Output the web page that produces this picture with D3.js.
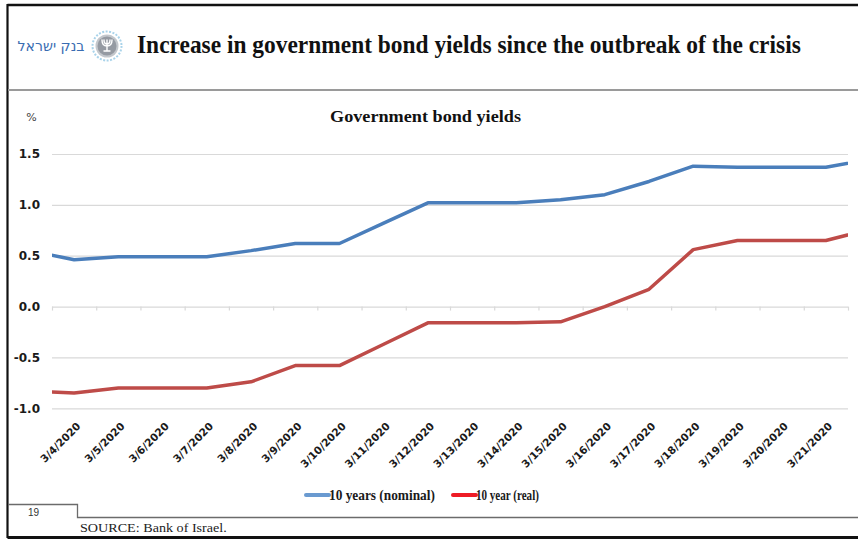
<!DOCTYPE html>
<html>
<head>
<meta charset="utf-8">
<script src="https://cdn.jsdelivr.net/npm/d3@7"></script>
<style>
  html, body { margin: 0; padding: 0; background: #fff; }
  svg { display: block; }
</style>
</head>
<body>
<svg id="chart" width="858" height="539"></svg>
<script>
// Day of March 2020 for every observation (3/3 and 3/22 sit just outside the axis range)
const days = [3, 4, 5, 6, 7, 8, 9, 10, 11, 12, 13, 14, 15, 16, 17, 18, 19, 20, 21, 22];
// 10-year nominal government bond yield, %
const nominal = [0.55, 0.46, 0.49, 0.49, 0.49, 0.55, 0.62, 0.62, 0.82, 1.02, 1.02, 1.02, 1.05, 1.10, 1.23, 1.38, 1.37, 1.37, 1.37, 1.45];
// 10-year real (CPI-linked) government bond yield, %
const real = [-0.83, -0.85, -0.80, -0.80, -0.80, -0.74, -0.58, -0.58, -0.37, -0.16, -0.16, -0.16, -0.15, 0.00, 0.17, 0.56, 0.65, 0.65, 0.65, 0.76];
// Category labels shown on the horizontal axis
const dateLabels = ["3/4/2020", "3/5/2020", "3/6/2020", "3/7/2020", "3/8/2020", "3/9/2020", "3/10/2020", "3/11/2020", "3/12/2020",
  "3/13/2020", "3/14/2020", "3/15/2020", "3/16/2020", "3/17/2020", "3/18/2020", "3/19/2020", "3/20/2020", "3/21/2020"];
const yTicks = [-1.0, -0.5, 0.0, 0.5, 1.0, 1.5];
const seriesNames = ["10 years (nominal)", "10 year (real)"];

const svg = d3.select("#chart");
const W = 858, H = 539;
const plot = { left: 52, right: 848, top: 154, bottom: 408.3 };
const SERIF = "'Liberation Serif', 'Times New Roman', serif";
const SANS = "'DejaVu Sans', Verdana, sans-serif";

// Squeeze a text horizontally (about its anchor) so it spans the given width.
function fitWidth(sel, width) {
  const node = sel.node();
  const natural = node.getComputedTextLength();
  if (!natural) return sel;
  const k = width / natural;
  const ax = +sel.attr("x"), ay = +sel.attr("y");
  return sel.attr("transform", `translate(${ax},${ay}) scale(${k},1) translate(${-ax},${-ay})`);
}

const labelDays = dateLabels.map(s => +s.split("/")[1]);
const x = d3.scaleLinear()
  .domain([d3.min(labelDays) - 0.5, d3.max(labelDays) + 0.5])
  .range([plot.left, plot.right]);
const y = d3.scaleLinear()
  .domain([d3.min(yTicks), d3.max(yTicks)])
  .range([plot.bottom, plot.top]);

// ---- frame ----
const frame = svg.append("g");
frame.append("line").attr("x1", 7.5).attr("x2", W).attr("y1", 5).attr("y2", 5)
  .attr("stroke", "#111").attr("stroke-width", 2.5);
frame.append("line").attr("x1", 7.5).attr("x2", 7.5).attr("y1", 4).attr("y2", 538)
  .attr("stroke", "#111").attr("stroke-width", 2.2);
frame.append("line").attr("x1", 7.5).attr("x2", W).attr("y1", 537.5).attr("y2", 537.5)
  .attr("stroke", "#111").attr("stroke-width", 3);
frame.append("line").attr("x1", 8).attr("x2", W).attr("y1", 90).attr("y2", 90)
  .attr("stroke", "#9a9a9a").attr("stroke-width", 2);
frame.append("path")
  .attr("d", "M8,504.5 H77.5 V517.5 H858")
  .attr("fill", "none").attr("stroke", "#6b6b6b").attr("stroke-width", 1.3);

// ---- header: logo + title ----
const header = svg.append("g");
fitWidth(header.append("text")
  .attr("x", 51).attr("y", 51.5)
  .attr("text-anchor", "middle")
  .attr("font-family", "'DejaVu Sans', 'Liberation Sans', sans-serif")
  .attr("font-size", 14)
  .attr("fill", "#3a6db2")
  .text("בנק ישראל"), 67);

const emblem = header.append("g").attr("transform", "translate(107,46)");
emblem.append("circle").attr("r", 14.5).attr("fill", "none")
  .attr("stroke", "#a9d3ea").attr("stroke-width", 2).attr("stroke-dasharray", "2 1.5");
emblem.append("circle").attr("r", 11.5).attr("fill", "#c3c7cc");
emblem.append("circle").attr("r", 9.5).attr("fill", "#959aa2");
// stylised menorah
emblem.append("path")
  .attr("d", "M0,-6 V5 M-5,-6 Q-5,0 0,0 Q5,0 5,-6 M-3,-6 Q-3,-2 0,-2 Q3,-2 3,-6 M-3,5 H3")
  .attr("fill", "none").attr("stroke", "#fff").attr("stroke-width", 1.4).attr("stroke-linecap", "round");

fitWidth(header.append("text")
  .attr("x", 137).attr("y", 53.5)
  .attr("font-family", SERIF)
  .attr("font-weight", "bold")
  .attr("font-size", 26)
  .attr("fill", "#111")
  .text("Increase in government bond yields since the outbreak of the crisis"), 664);

// ---- chart title and unit ----
fitWidth(svg.append("text")
  .attr("x", 425.5).attr("y", 122)
  .attr("text-anchor", "middle")
  .attr("font-family", SERIF)
  .attr("font-weight", "bold")
  .attr("font-size", 16.5)
  .attr("fill", "#111")
  .text("Government bond yields"), 191);

svg.append("text")
  .attr("x", 31.5).attr("y", 121)
  .attr("text-anchor", "middle")
  .attr("font-family", SANS)
  .attr("font-size", 11)
  .attr("fill", "#444")
  .text("%");

// ---- y axis with gridlines ----
const yAxis = svg.append("g")
  .attr("transform", `translate(${plot.left},0)`)
  .call(d3.axisLeft(y)
    .tickValues(yTicks)
    .tickSize(-(plot.right - plot.left))
    .tickPadding(12)
    .tickFormat(d => d.toFixed(1)));
yAxis.select(".domain").remove();
yAxis.selectAll(".tick line").attr("stroke", "#d9d9d9").attr("stroke-width", 1.2);
yAxis.selectAll(".tick text")
  .attr("font-family", SANS)
  .attr("font-weight", "bold")
  .attr("font-size", 12)
  .attr("fill", "#1a1a1a");

// ---- category tick marks on the zero line ----
const boundaries = labelDays.map(d => d - 0.5).concat([d3.max(labelDays) + 0.5]);
const xTicks = svg.append("g")
  .attr("transform", `translate(0,${y(0)})`)
  .call(d3.axisBottom(x).tickValues(boundaries).tickSize(4).tickFormat(""));
xTicks.select(".domain").remove();
xTicks.selectAll(".tick line").attr("stroke", "#d9d9d9").attr("stroke-width", 1.2);

// ---- rotated date labels along the bottom ----
const xLabels = svg.append("g")
  .attr("transform", `translate(0,${plot.bottom + 16})`)
  .call(d3.axisBottom(x).tickValues(labelDays).tickSize(0).tickFormat((d, i) => dateLabels[i]));
xLabels.select(".domain").remove();
xLabels.selectAll(".tick text")
  .attr("font-family", SANS)
  .attr("font-weight", "bold")
  .attr("font-size", 10.5)
  .attr("fill", "#1a1a1a")
  .attr("text-anchor", "end")
  .attr("dy", "0.35em")
  .attr("y", 0)
  .attr("transform", "translate(4,0) rotate(-45)");

// ---- series lines ----
svg.append("clipPath").attr("id", "plot-clip")
  .append("rect")
  .attr("x", plot.left).attr("y", plot.top - 20)
  .attr("width", plot.right - plot.left).attr("height", plot.bottom - plot.top + 40);

const line = vals => d3.line()
  .x((d, i) => x(days[i]))
  .y(d => y(d))(vals);

const lines = svg.append("g").attr("clip-path", "url(#plot-clip)");
lines.append("path").attr("d", line(nominal))
  .attr("fill", "none").attr("stroke", "#4a7ebb").attr("stroke-width", 3.5)
  .attr("stroke-linejoin", "round");
lines.append("path").attr("d", line(real))
  .attr("fill", "none").attr("stroke", "#be4b48").attr("stroke-width", 3.5)
  .attr("stroke-linejoin", "round");

// ---- legend ----
const legendItems = [
  { name: seriesNames[0], color: "#6a9ad0", x0: 306, x1: 329, tx: 329, tw: 106 },
  { name: seriesNames[1], color: "#ee1c25", x0: 453, x1: 476, tx: 476, tw: 63 }
];
const legend = svg.append("g");
legendItems.forEach(it => {
  legend.append("line")
    .attr("x1", it.x0).attr("x2", it.x1).attr("y1", 495).attr("y2", 495)
    .attr("stroke", it.color).attr("stroke-width", 4).attr("stroke-linecap", "round");
  fitWidth(legend.append("text")
    .attr("x", it.tx).attr("y", 500.5)
    .attr("font-family", SERIF)
    .attr("font-weight", "bold")
    .attr("font-size", 14.5)
    .attr("fill", "#1a1a1a")
    .text(it.name), it.tw);
});

// ---- footer ----
svg.append("text")
  .attr("x", 28).attr("y", 516)
  .attr("font-family", "'Liberation Sans', sans-serif")
  .attr("font-size", 10)
  .attr("fill", "#333")
  .text("19");
fitWidth(svg.append("text")
  .attr("x", 80).attr("y", 532)
  .attr("font-family", SERIF)
  .attr("font-size", 13.5)
  .attr("fill", "#222")
  .text("SOURCE: Bank of Israel."), 147);
</script>
</body>
</html>
